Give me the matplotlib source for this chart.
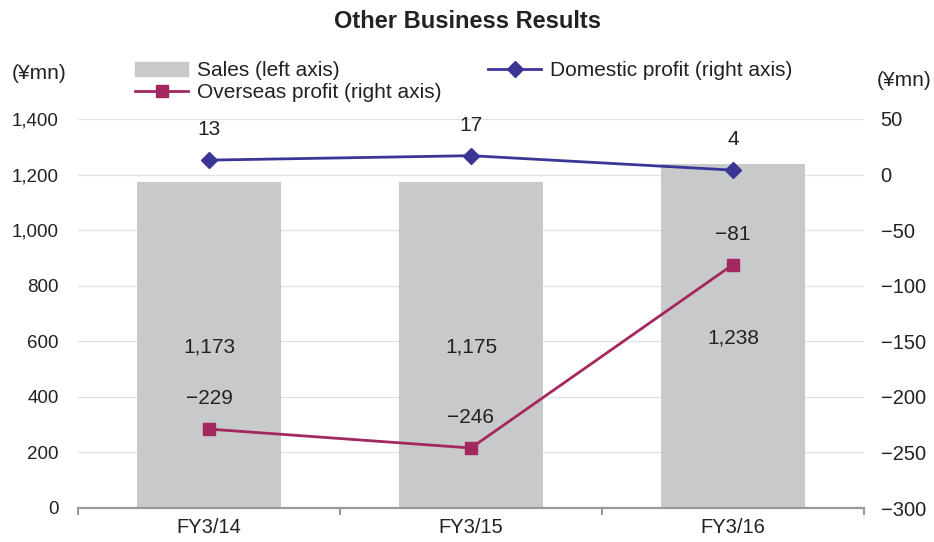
import numpy as np
import matplotlib.pyplot as plt
from matplotlib.patches import Patch
from matplotlib.lines import Line2D

plt.rcParams['font.family'] = ['Liberation Sans', 'DejaVu Sans']

years = ["FY3/14", "FY3/15", "FY3/16"]
sales = [1173, 1175, 1238]
domestic = [13, 17, 4]
overseas = [-229, -246, -81]

cBar = "#C8C9CB"
cDom = "#3B3596"
cOvs = "#A3285F"
cText = "#222222"

fig = plt.figure(figsize=(9.34, 5.42), dpi=100)
ax = fig.add_axes([78 / 934, 1 - 508 / 542, 786 / 934, 389 / 542])
ax2 = ax.twinx()

x = np.arange(len(years))
ax.bar(x, sales, width=0.553, color=cBar, zorder=2)
ax.set_xlim(-0.5, 2.5)
ax.set_ylim(0, 1400)
ax.set_yticks(np.arange(0, 1401, 200))
ax.set_yticklabels([f"{v:,}" for v in range(0, 1401, 200)])
ax.grid(axis="y", color="#E2E2E2", linewidth=1, zorder=0)
ax.set_axisbelow(True)

ax2.set_ylim(-300, 50)
ax2.set_yticks(np.arange(-300, 51, 50))
ax2.set_yticklabels([f"{v}".replace("-", "\u2212") for v in range(-300, 51, 50)])

ax2.plot(x, domestic, color=cDom, marker="D", markersize=8, linewidth=2, zorder=3)
ax2.plot(x, overseas, color=cOvs, marker="s", markersize=9, linewidth=2, zorder=3)

for a in (ax, ax2):
    for s in ("top", "left", "right"):
        a.spines[s].set_visible(False)
    a.spines["bottom"].set_color("#999999")
    a.spines["bottom"].set_linewidth(1.5)
    a.tick_params(axis="y", length=0, colors=cText)
ax.tick_params(axis="y", pad=14, labelsize=13.5)
ax2.tick_params(axis="y", pad=12, labelsize=14.5)

# category boundary ticks on x axis
ax.set_xticks(x)
ax.set_xticklabels(years, fontsize=14.5, color=cText)
ax.tick_params(axis="x", length=0, pad=7)
ax.set_xticks([-0.5, 0.5, 1.5, 2.5], minor=True)
ax.tick_params(axis="x", which="minor", length=5, color="#999999", width=1.5)

# data labels
for i in range(len(years)):
    ax.text(x[i], sales[i] / 2 - 8, f"{sales[i]:,}", ha="center", va="center",
            fontsize=15, color=cText)
    ax2.annotate(f"{domestic[i]}", (x[i], domestic[i]), xytext=(0, 15),
                 textcoords="offset points", ha="center", va="bottom",
                 fontsize=15, color=cText)
    ax2.annotate(f"{overseas[i]}".replace("-", "\u2212"), (x[i], overseas[i]),
                 xytext=(0, 15), textcoords="offset points", ha="center",
                 va="bottom", fontsize=15, color=cText)

fig.text(0.5, 1 - 22 / 542, "Other Business Results", ha="center", va="center",
         fontsize=17, fontweight="bold", color=cText)
fig.text(12 / 934, 1 - 73 / 542, "(¥mn)", ha="left", va="center", fontsize=15,
         color=cText)
fig.text(932 / 934, 1 - 80 / 542, "(¥mn)", ha="right", va="center", fontsize=15,
         color=cText)

handles = [
    Patch(color=cBar),
    Line2D([], [], color=cOvs, marker="s", markersize=9, linewidth=2),
    Line2D([], [], color=cDom, marker="D", markersize=8, linewidth=2),
]
labels = ["Sales (left axis)", "Overseas profit (right axis)", "Domestic profit (right axis)"]
fig.legend(handles, labels, ncol=2, frameon=False,
           prop={"size": 15},
           loc="upper left", bbox_to_anchor=(127 / 934, 1 - 53 / 542),
           handlelength=2.55, handletextpad=0.4, columnspacing=2.25,
           labelspacing=0.15, borderaxespad=0, labelcolor=cText)

fig.savefig("out.png", dpi=100)
